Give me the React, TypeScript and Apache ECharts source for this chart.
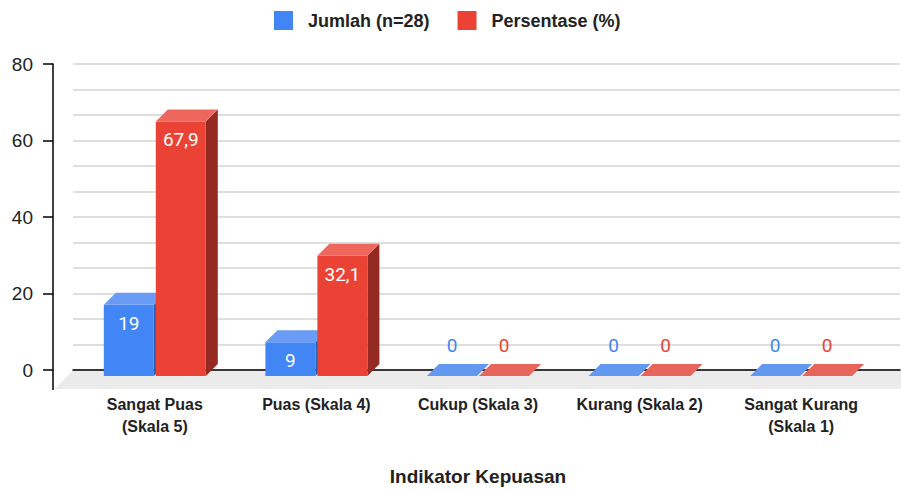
import React, { useEffect, useRef } from "react";
import * as echarts from "echarts";

const categories = [
  "Sangat Puas\n(Skala 5)",
  "Puas (Skala 4)",
  "Cukup (Skala 3)",
  "Kurang (Skala 2)",
  "Sangat Kurang\n(Skala 1)",
];
const jumlah = [19, 9, 0, 0, 0];
const persentase = [67.9, 32.1, 0, 0, 0];
const seriesNames = ["Jumlah (n=28)", "Persentase (%)"];
const yMin = 0;
const yMax = 80;
const yMajor = 20;
const yMinor = 20 / 3;

const BLUE = { front: "#4285f4", top: "#6a9cf5", side: "#2c5fb5", zero: "#6398f0" };
const RED = { front: "#ea4335", top: "#ee675d", side: "#952a22", zero: "#e8655b" };

const fmt = (v: number) => String(v).replace(".", ",");

function makeRender(side: number, pal: typeof BLUE) {
  return (params: any, api: any) => {
    const idx = api.value(0);
    const val = api.value(1);
    const [cx, vy] = api.coord([idx, val]);
    const [, zy] = api.coord([idx, 0]);
    const D = 12;
    const W = 50;
    const G = 1;
    const x0 = side < 0 ? cx - G - W : cx + G;
    const x1 = x0 + W;
    const ft = vy + D;
    const fb = zy + D;
    const children: any[] = [];
    if (val > 0) {
      children.push({
        type: "polygon",
        shape: { points: [[x1, ft], [x1 + D, ft - D], [x1 + D, zy], [x1, fb]] },
        style: { fill: pal.side },
      });
      children.push({
        type: "rect",
        shape: { x: x0, y: ft, width: W, height: fb - ft },
        style: { fill: pal.front },
      });
      children.push({
        type: "polygon",
        shape: { points: [[x0, ft], [x1, ft], [x1 + D, ft - D], [x0 + D, ft - D]] },
        style: { fill: pal.top },
      });
      children.push({
        type: "text",
        x: (x0 + x1) / 2,
        y: ft + 18.5,
        style: {
          text: fmt(val),
          fill: "#ffffff",
          font: "19px Roboto",
          align: "center",
          verticalAlign: "middle",
        },
      });
    } else {
      children.push({
        type: "polygon",
        shape: { points: [[x0, ft], [x1, ft], [x1 + D, ft - D], [x0 + D, ft - D]] },
        style: { fill: pal.zero },
      });
      children.push({
        type: "text",
        x: (x0 + x1) / 2,
        y: vy - 18.5,
        style: {
          text: fmt(val),
          fill: pal.front,
          font: "19px Roboto",
          align: "center",
          verticalAlign: "middle",
        },
      });
    }
    return { type: "group", children };
  };
}

export default function App() {
  const ref = useRef<HTMLDivElement>(null);
  useEffect(() => {
    if (!ref.current) return;
    const chart = echarts.init(ref.current, undefined, { renderer: "svg" });
    const font = "'Liberation Sans', Arial, sans-serif";
    chart.setOption({
      animation: false,
      backgroundColor: "#ffffff",
      legend: {
        top: 6,
        left: 269,
        itemWidth: 19,
        itemHeight: 19,
        itemGap: 28,
        icon: "rect",
        data: seriesNames,
        textStyle: {
          fontFamily: font,
          fontSize: 18,
          fontWeight: "bold",
          color: "#222222",
          padding: [0, 0, 0, 10],
        },
      },
      grid: [
        { left: 73, right: 1, top: 64, bottom: 121 },
        { left: 74, right: 19, top: 64, bottom: 121 },
      ],
      xAxis: [
        {
          gridIndex: 0,
          type: "category",
          data: categories,
          axisLine: { show: true, lineStyle: { color: "#000000", width: 1.5 } },
          axisTick: { show: false },
          axisLabel: { show: false },
          splitLine: { show: false },
        },
        {
          gridIndex: 1,
          type: "category",
          data: categories,
          axisLine: { show: false },
          axisTick: { show: false },
          axisLabel: {
            interval: 0,
            margin: 29,
            fontFamily: font,
            fontSize: 16,
            fontWeight: "bold",
            color: "#222222",
            lineHeight: 22,
          },
          name: "Indikator Kepuasan",
          nameLocation: "middle",
          nameGap: 103,
          nameTextStyle: {
            fontFamily: font,
            fontSize: 19,
            fontWeight: "bold",
            color: "#222222",
          },
        },
      ],
      yAxis: [
        {
          gridIndex: 0,
          type: "value",
          min: yMin,
          max: yMax,
          interval: yMajor,
          offset: 20,
          axisLine: { show: true, lineStyle: { color: "#000000", width: 1.5 } },
          axisTick: { show: true, length: 10, lineStyle: { color: "#000000", width: 1.5 } },
          axisLabel: { margin: 20, fontFamily: font, fontSize: 19, color: "#222222" },
          splitLine: { show: false },
        },
        {
          gridIndex: 0,
          type: "value",
          min: yMin,
          max: yMax,
          interval: yMajor,
          offset: 20,
          axisLine: { show: false },
          axisTick: { show: true, inside: true, length: 10, lineStyle: { color: "#000000", width: 1.5 } },
          axisLabel: { show: false },
          splitLine: { show: false },
        },
        {
          gridIndex: 0,
          type: "value",
          min: yMin,
          max: yMax,
          interval: yMinor,
          axisLine: { show: false },
          axisTick: { show: false },
          axisLabel: { show: false },
          splitLine: { show: true, lineStyle: { color: "#d4d4d4", width: 1.5 } },
        },
        {
          gridIndex: 1,
          type: "value",
          min: yMin,
          max: yMax,
          interval: yMajor,
          show: false,
          splitLine: { show: false },
        },
      ],
      graphic: [
        {
          type: "polygon",
          z: -10,
          shape: { points: [[73, 370], [901, 370], [901, 389], [55, 389]] },
          style: { fill: "#ebebeb" },
        },
        {
          type: "line",
          z: 10,
          shape: { x1: 53, y1: 370, x2: 53, y2: 390 },
          style: { stroke: "#000000", lineWidth: 1.5 },
        },
      ],
      series: [
        {
          name: seriesNames[0],
          type: "custom",
          xAxisIndex: 1,
          yAxisIndex: 3,
          itemStyle: { color: BLUE.front },
          encode: { x: 0, y: 1 },
          data: jumlah.map((v, i) => [i, v]),
          renderItem: makeRender(-1, BLUE),
          z: 2,
        },
        {
          name: seriesNames[1],
          type: "custom",
          xAxisIndex: 1,
          yAxisIndex: 3,
          itemStyle: { color: RED.front },
          encode: { x: 0, y: 1 },
          data: persentase.map((v, i) => [i, v]),
          renderItem: makeRender(1, RED),
          z: 3,
        },
      ],
    });
    return () => chart.dispose();
  }, []);
  return (
    <div
      ref={ref}
      style={{ position: "absolute", left: 0, top: 0, width: 901, height: 491 }}
    />
  );
}
